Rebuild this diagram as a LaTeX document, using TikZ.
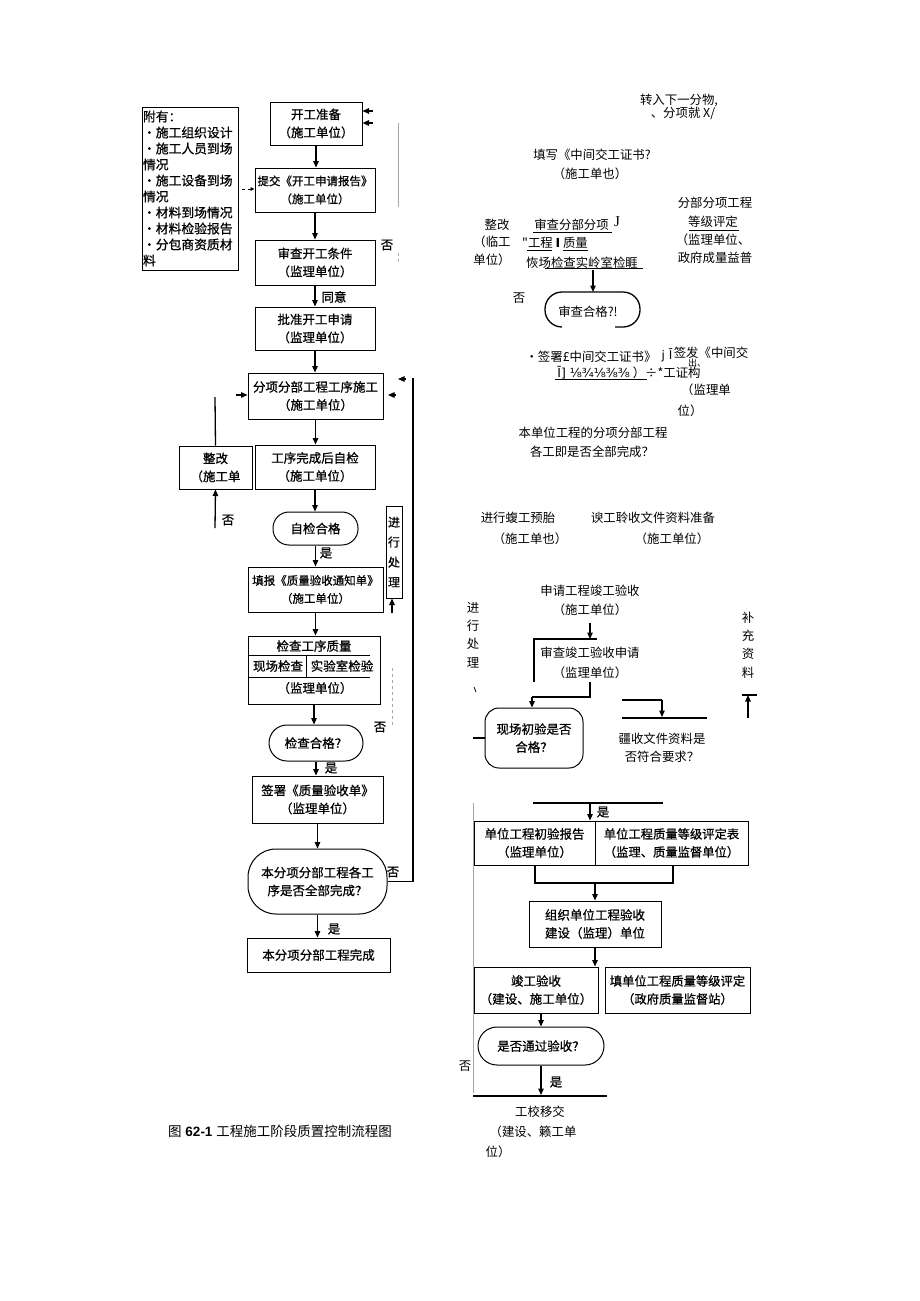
\documentclass[tikz,border=0pt]{standalone}
\usepackage{fontspec}
\setmainfont{Liberation Sans}
\newfontfamily\cjk{Noto Sans CJK SC}
\newfontfamily\cjkb[FakeBold=0.7]{Noto Sans CJK SC}
\newfontfamily\dv{DejaVu Sans}
\newfontfamily\lsr{Liberation Serif}
\usetikzlibrary{arrows.meta}
\newcommand\fa{\cjkb\fontsize{12.5}{18}\selectfont}
\newcommand\fc{\cjkb\fontsize{11.5}{18}\selectfont}
\newcommand\fb{\cjk\fontsize{12.4}{19}\selectfont}
\begin{document}
\begin{tikzpicture}[x=1pt,y=-1pt,
  box/.style={draw, line width=1pt, align=center, inner sep=0pt, font=\fa},
  stad/.style={box, rounded corners=#1},
  txt/.style={inner sep=0pt, align=center, font=\fb},
  ltxt/.style={inner sep=0pt, align=center, font=\fa},
  arr/.style={line width=1.3pt, -{Triangle[length=6.5pt,width=5.5pt]}},
  ln/.style={line width=1.3pt},
  gln/.style={line width=1pt, gray!70}]
\fill[white] (0,0) rectangle (920,1301);
\useasboundingbox (0,0) rectangle (920,1301);

% ---------------- left column ----------------
\node[draw, line width=1pt, minimum width=96, minimum height=163, text width=94pt, align=left, inner xsep=1pt, inner ysep=0pt, font=\cjkb\fontsize{12.8}{16}\selectfont] (fj) at (190,188.5)
 {附有：\\・施工组织设计\\・施工人员到场\\情况\\・施工设备到场\\情况\\・材料到场情况\\・材料检验报告\\・分包商资质材\\料};

\node[box, minimum width=92, minimum height=43] (kgzb) at (316,123.5) {开工准备\\（施工单位）};
\node[box, font=\fc, minimum width=120, minimum height=44] (tj) at (315,190) {提交《开工申请报告》\\（施工单位）};
\node[box, minimum width=120, minimum height=45] (sc) at (315,262.5) {审查开工条件\\（监理单位）};
\node[box, minimum width=120, minimum height=43] (pz) at (315,328.5) {批准开工申请\\（监理单位）};
\node[box, minimum width=135, minimum height=46] (fx) at (315.5,396) {分项分部工程工序施工\\（施工单位）};
\node[box, minimum width=73, minimum height=43] (zg) at (215.5,467.5) {整改\\（施工单};
\node[box, minimum width=120, minimum height=44] (gx) at (315,467) {工序完成后自检\\（施工单位）};
\node[stad=16pt, minimum width=85, minimum height=33] (zj) at (315.5,528.5) {自检合格};
\node[box, font=\fc, minimum width=135, minimum height=45] (tb) at (315.5,589.5) {填报《质量验收通知单》\\（施工单位）};
\node[box, font=\cjkb\fontsize{12}{20}\selectfont, minimum width=16, minimum height=92] (jxcl) at (394,552) {进\\行\\处\\理};
\node[draw, line width=1pt, minimum width=132, minimum height=68, inner sep=0pt] (jc) at (314,670) {};
\node[ltxt] (jc1) at (314,646) {检查工序质量};
\node[ltxt] (jc2) at (278,666) {现场检查};
\node[ltxt] (jc3) at (342,666) {实验室检验};
\node[ltxt] (jc4) at (315,688) {（监理单位）};
\draw[line width=1pt] (248,655) -- (370,655);
\draw[line width=1pt] (306,655) -- (306,677);
\draw[line width=1pt] (248,677) -- (370,677);
\node[stad=18pt, minimum width=94, minimum height=36] (jchg) at (316,743) {检查合格？};
\node[box, minimum width=131, minimum height=47] (qs) at (317.5,799.5) {签署《质量验收单》\\（监理单位）};
\node[stad=28pt, minimum width=139, minimum height=65] (bfx) at (317.5,881.5) {本分项分部工程各工\\序是否全部完成？};
\node[box, minimum width=143, minimum height=34] (wc) at (318.5,955) {本分项分部工程完成};

% left connectors
\draw[arr] (kgzb.south) -- (kgzb.south |- tj.north);
\draw[arr] (tj.south) -- (tj.south |- sc.north);
\draw[arr] (sc.south) -- (sc.south |- pz.north);
\draw[arr] (pz.south) -- (pz.south |- fx.north);
\draw[arr] (fx.south) -- (fx.south |- gx.north);
\draw[arr] (gx.south) -- (gx.south |- zj.north);
\draw[arr] (zj.south) -- (zj.south |- tb.north);
\draw[arr] (tb.south) -- (tb.south |- jc.north);
\draw[arr] (jc.south) -- (jc.south |- jchg.north);
\draw[arr] (jchg.south) -- (jchg.south |- qs.north);
\draw[arr] (qs.south) -- (qs.south |- bfx.north);
\draw[arr] (bfx.south) -- (bfx.south |- wc.north);

\coordinate (k1) at (373,111); \coordinate (k2) at (373,123);
\draw[arr] (k1) -- (k1 -| kgzb.east);
\draw[arr] (k2) -- (k2 -| kgzb.east);
\draw[gln] (398,123) -- (398,207);
\coordinate (d1) at (242,189);
\draw[line width=0.8pt, dashed, -{Triangle[length=4pt,width=3.5pt]}] (d1) -- (d1 -| tj.west);
\node[ltxt] (no1) at (387,245) {否};
\draw[gln, dashed] (398,253) -- (398,263);
\node[ltxt] (ty) at (334,297) {同意};

\coordinate (lp) at (413,378);
\draw[ln] (bfx.east) -| (lp);
\coordinate (h1) at (406,379); \coordinate (h2) at (396,395);
\draw[arr] (h1) -- ++(-8,0);
\draw[arr] (h2) -- ++(-8,0);
\coordinate (zgt) at (215,397);
\draw[ln] (zg.north) -- (zgt);
\coordinate (h3) at (236,395);
\draw[arr] (h3) -- (h3 -| fx.west);
\coordinate (zgb) at (215,528);
\draw[arr] (zgb) -- (zg.south);
\node[ltxt] (no2) at (228,520) {否};
\node[ltxt] (yes1) at (326,553) {是};
\coordinate (jxb) at (392,613);
\draw[arr] (jxb) -- (jxb |- jxcl.south);
\draw[gln, dash pattern=on 3pt off 3pt] (392,668) -- (392,727);
\node[ltxt] (no3) at (380,727) {否};
\node[ltxt] (yes2) at (331,768) {是};
\node[ltxt] (no4) at (393,872) {否};
\node[ltxt] (yes3) at (334,929) {是};

% ---------------- right column, upper ----------------
\node[txt] (r1) at (679,100) {转入下一分物,};
\node[txt] (r2) at (683,113) {、分项就 X/};
\node[txt] (r3) at (592,155) {填写《中间交工证书?};
\node[txt] (r4) at (590,174) {（施工单也）};
\node[txt] (r5) at (715,203) {分部分项工程};
\node[txt] (r6) at (713,222) {等级评定};
\draw[line width=0.7pt] (689,230) -- (739,230);
\node[txt] (r7) at (713,240) {（监理单位、};
\node[txt] (r8) at (715,258) {政府成量益普};
\node[txt] (r9) at (497,225) {整改};
\node[txt] (r10) at (492,242) {（临工};
\node[txt] (r11) at (492,260) {单位）};
\node[txt] (r12) at (571.5,225) {审查分部分项};
\node[txt, font=\lsr\fontsize{15}{15}\selectfont] (r12j) at (617,222) {J};
\draw[line width=0.7pt] (533,232) -- (612,232);
\node[txt] (r13) at (555,243) {"工程 {\dv\bfseries I} 质量};
\draw[line width=0.7pt] (527,250) -- (552,250);
\draw[line width=0.7pt] (563,250) -- (588,250);
\node[txt] (r14) at (582,263) {恢场检查实岭室检睚};
\draw[line width=0.9pt] (545,268) -- (643,268);
\coordinate (a1) at (593,270);
\coordinate (shtop) at (593,292);
\draw[arr] (a1) -- (shtop);
\draw[ln, rounded corners=17pt] (615,327) -| (640,292) -| (545,327) -- (562,327);
\node[txt] (shhg) at (588,312) {审查合格?!};
\node[txt] (r15) at (519,298) {否};
\node[txt] (r16) at (591,357) {•签署£中间交工证书》};
\node[txt, font=\dv\fontsize{12}{12}\selectfont] (r17) at (667,355) {j Ī};
\node[txt] (r18) at (711,353) {签发《中间交};
\node[txt, font=\cjk\fontsize{9}{9}\selectfont] (r19) at (697,363) {出、};
\node[txt] (r20) at (629,373) {{\dv Ī] ⅛¾⅛⅜⅜} ）÷*工证构};
\draw[line width=0.7pt] (555,379) -- (647,379);
\node[txt] (r21) at (706,390) {（监理单};
\node[txt] (r22) at (690,411) {位）};
\node[txt] (r23) at (593,433) {本单位工程的分项分部工程};
\node[txt] (r24) at (592,452) {各工即是否全部完成？};

% ---------------- right column, middle ----------------
\node[txt] (r25) at (518,518) {进行蝮工预胎};
\node[txt] (r26) at (530,539) {（施工单也）};
\node[txt] (r27) at (653,518) {谀工聆收文件资料准备};
\node[txt] (r28) at (672,539) {（施工单位）};
\node[txt] (r29) at (590,591) {申请工程竣工验收};
\node[txt] (r30) at (590,610) {（施工单位）};
\node[txt, font=\cjk\fontsize{12.4}{18.3}\selectfont] (r31) at (473,635) {进\\行\\处\\理};
\node[txt] (r32) at (590,653) {审查竣工验收申请};
\node[txt] (r33) at (590,673) {（监理单位）};
\node[stad=14pt, minimum width=98, minimum height=60] (xcy) at (534,738) {现场初验是否\\合格？};
\node[txt] (r34) at (662,739) {疆收文件资料是};
\node[txt] (r35) at (662,757) {否符合要求？};
\node[txt, font=\cjk\fontsize{12.4}{18.3}\selectfont] (r36) at (748,645) {补\\充\\资\\料};

\coordinate (p1) at (590,623);
\coordinate (p2) at (533,639);
\draw[arr] (p1) -- (p1 |- p2);
\draw[ln] (p2) -- (597,639);
\draw[ln] (534,639) -- (534,682);
\draw[ln] (590,682) -- (590,697) -- (532,697);
\coordinate (p4) at (532,697);
\draw[arr] (p4) -- (p4 |- xcy.north);
\draw[line width=0.8pt] (474,687) -- (476,692);
\coordinate (p5) at (473,738);
\draw[ln] (p5) -- (xcy.west);
\coordinate (q1) at (622,700); \coordinate (q2) at (662,700);
\draw[ln] (q1) -- (q2);
\draw[arr] (q2) -- ++(0,17);
\draw[ln] (622,718) -- (707,718);
\coordinate (q3) at (748,718); \coordinate (q4) at (748,695);
\draw[arr] (q3) -- (q4);
\draw[ln] (742,695) -- (757,695);

% ---------------- right column, lower ----------------
\draw[ln] (533,803) -- (663,803);
\node[box, minimum width=121, minimum height=44] (cy) at (534.5,843) {单位工程初验报告\\（监理单位）};
\node[box, font=\cjkb\fontsize{12.3}{18}\selectfont, minimum width=153, minimum height=44] (pd) at (671.5,843) {单位工程质量等级评定表\\（监理、质量监督单位）};
\coordinate (s1) at (590,803);
\draw[arr] (s1) -- (s1 |- cy.north);
\node[ltxt] (yes4) at (603,812) {是};
\draw[ln] (535,865) -- (535,883) -- (673,883) -- (673,865);
\node[box, minimum width=132, minimum height=46] (zz) at (595,924) {组织单位工程验收\\建设（监理）单位};
\coordinate (s2) at (595,883);
\draw[arr] (s2) -- (zz.north);
\node[box, minimum width=124, minimum height=46] (jg) at (536,990) {竣工验收\\（建设、施工单位）};
\node[box, font=\cjkb\fontsize{12.3}{18}\selectfont, minimum width=145, minimum height=46] (tdj) at (677.5,990) {填单位工程质量等级评定\\（政府质量监督站）};
\draw[arr] (zz.south) -- (zz.south |- jg.north);
\node[stad=19pt, minimum width=126, minimum height=38] (sftg) at (541,1046) {是否通过验收？};
\draw[arr] (jg.south -| sftg.north) -- (sftg.north);
\coordinate (endp) at (541,1095);
\draw[arr] (sftg.south) -- (endp);
\node[ltxt] (yes5) at (556,1082) {是};
\draw[ln] (473,1096) -- (607,1096);
\draw[gln] (473,803) -- (473,1093);
\node[txt] (no5) at (465,1066) {否};
\node[txt] (r37) at (540,1112) {工校移交};
\node[txt] (r38) at (533,1132) {（建设、籁工单};
\node[txt] (r39) at (498,1152) {位）};

% caption
\node[inner sep=0pt, font=\fontsize{13.5}{14}\selectfont] (cap) at (280,1131) {{\cjk 图} {\bfseries 62-1} {\cjk 工程施工阶段质置控制流程图}};
\end{tikzpicture}
\end{document}
